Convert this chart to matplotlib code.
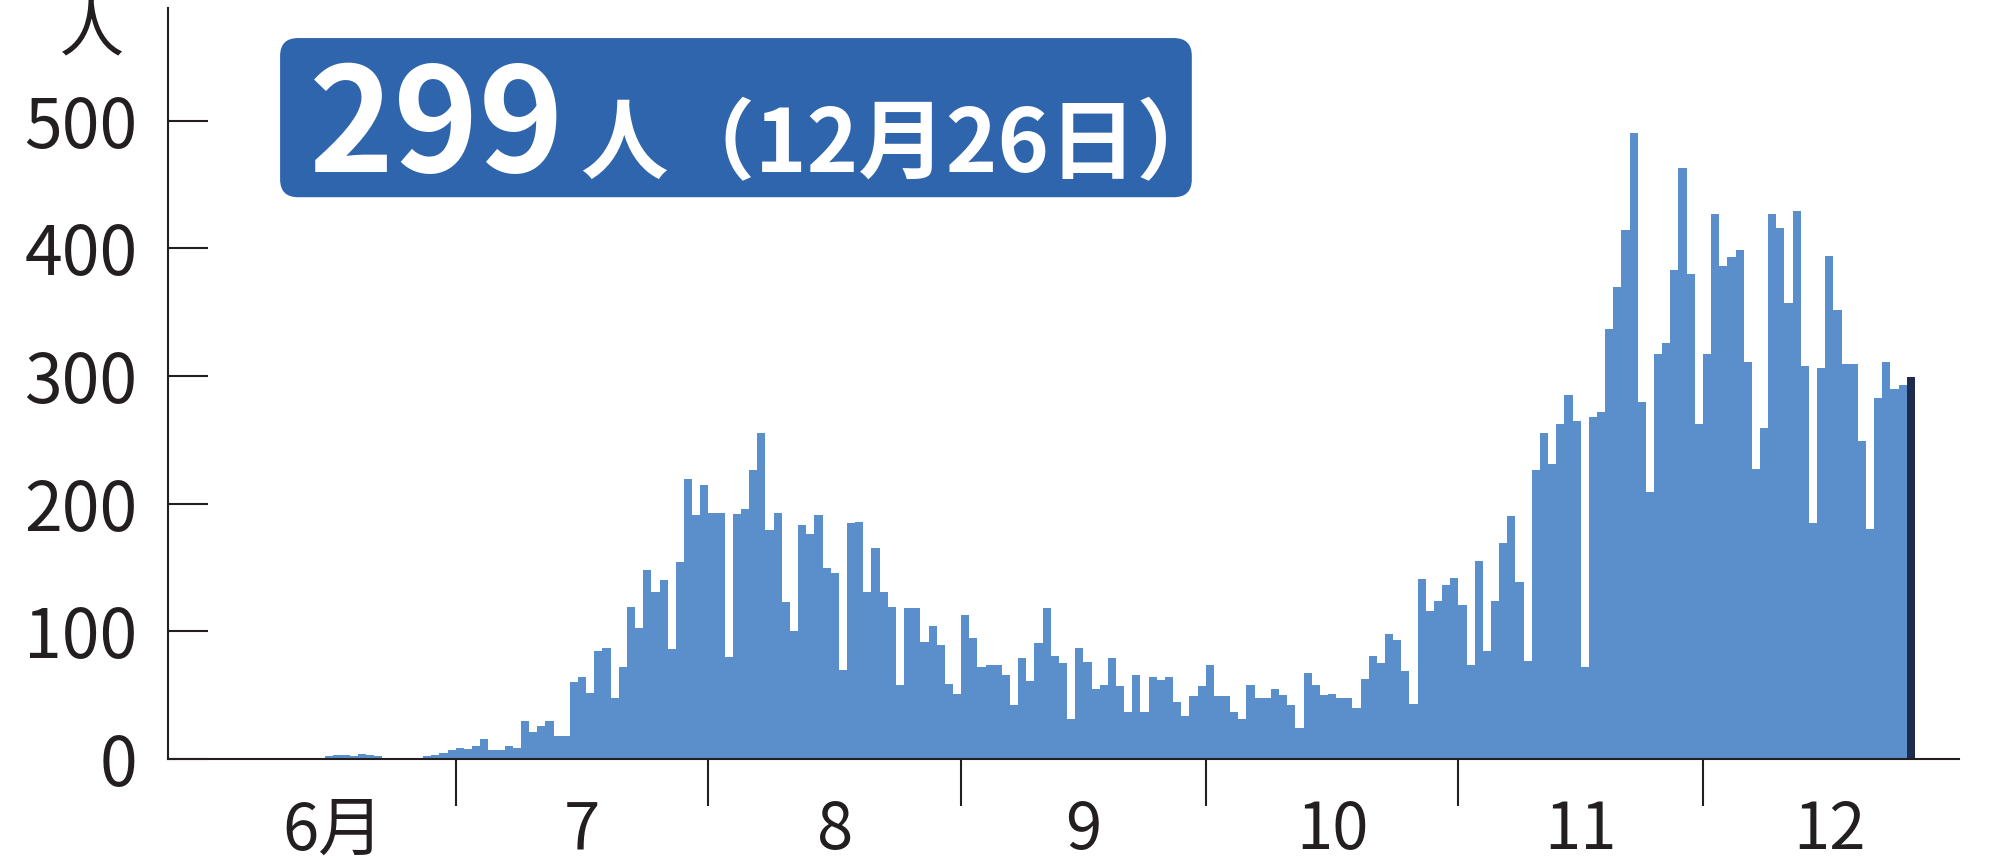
import numpy as np
import matplotlib
matplotlib.use("Agg")
import matplotlib.pyplot as plt
from matplotlib.patches import FancyBboxPatch

# daily new cases (June 1 - Dec 26)
jun = [0, 0, 0, 0, 0, 0, 0, 0, 0, 0, 0, 0, 0, 1, 2, 3, 3, 2, 4, 3,
       2, 1, 1, 1, 1, 1, 2, 3, 5, 7]
jul = [9, 8, 10, 16, 7, 7, 10, 9, 30, 21, 26, 30, 18, 18, 60, 64, 52, 85, 87, 48,
       72, 119, 103, 148, 131, 140, 86, 154, 219, 191, 215]
aug = [193, 193, 80, 192, 196, 226, 255, 179, 193, 123, 100, 183, 176, 191, 150, 146, 70, 185, 186, 131,
       165, 131, 119, 58, 118, 118, 92, 104, 89, 59, 51]
sep = [113, 95, 72, 74, 74, 66, 42, 79, 61, 91, 118, 81, 75, 31, 87, 76, 55, 58, 79, 57,
       37, 66, 37, 64, 62, 64, 45, 34, 49, 57]
oct_ = [74, 49, 49, 37, 31, 58, 48, 48, 55, 50, 42, 24, 67, 58, 50, 51, 48, 48, 40, 63,
        81, 75, 98, 93, 69, 43, 141, 116, 124, 136, 142]
nov = [121, 74, 155, 85, 124, 169, 190, 139, 77, 226, 255, 231, 262, 285, 265, 72, 268, 272, 337, 370,
       414, 490, 280, 209, 317, 326, 383, 463, 380, 262]
dec = [317, 427, 386, 393, 399, 311, 227, 259, 427, 416, 357, 429, 308, 185, 306, 394, 352, 309, 309, 249,
       180, 283, 311, 290, 293, 299]

values = jun + jul + aug + sep + oct_ + nov + dec
month_len = [30, 31, 31, 30, 31, 30, 31]
month_labels = ["6月", "7", "8", "9", "10", "11", "12"]
y_ticks = [0, 100, 200, 300, 400, 500]

bar_color = "#5b8fcb"
last_color = "#1e2b4d"
ink = "#231f20"
num_font = ["Noto Sans CJK JP", "DejaVu Sans"]

fig = plt.figure(figsize=(19.95, 8.65), dpi=100)
ax = fig.add_axes([0.0842, 0.1225, 0.8977, 0.868])

x = np.arange(len(values))
colors = [bar_color] * (len(values) - 1) + [last_color]
ax.bar(x, values, width=1.0, color=colors, linewidth=0)

ax.set_xlim(-5.8, 213.9)
ax.set_ylim(0, 588)

for s in ["top", "right"]:
    ax.spines[s].set_visible(False)
for s in ["left", "bottom"]:
    ax.spines[s].set_linewidth(1.5)
    ax.spines[s].set_color(ink)

# month boundaries (major) and month centres (minor, labelled)
starts = np.concatenate([[0], np.cumsum(month_len)[:-1]])
bounds = starts[1:] - 0.5
centres = starts + np.array(month_len) / 2 - 0.5
ax.set_xticks(bounds)
ax.set_xticklabels([])
ax.set_xticks(centres, minor=True)
ax.set_xticklabels(month_labels, minor=True)
ax.tick_params(axis="x", which="major", direction="out", length=34, width=1.5, color=ink)
ax.tick_params(axis="x", which="minor", length=0, pad=28, labelsize=47, labelcolor=ink)

ax.set_yticks(y_ticks)
ax.set_yticklabels([str(v) for v in y_ticks])
ax.tick_params(axis="y", direction="in", length=29, width=1.5, color=ink,
               labelsize=49, labelcolor=ink)
ax.yaxis.set_tick_params(pad=22)
for lab in ax.get_xticklabels(minor=True) + ax.get_yticklabels():
    lab.set_family(num_font)

# unit label
fig.text(0.046, 0.962, "人", fontsize=46, ha="center", va="center", color=ink,
         family=["Noto Sans CJK JP"])

# headline box
box = FancyBboxPatch((0.1404, 0.772), 0.457, 0.184,
                     boxstyle="round,pad=0,rounding_size=0.009",
                     mutation_aspect=1995 / 865,
                     transform=fig.transFigure, facecolor="#2f65ad",
                     edgecolor="none")
fig.patches.append(box)
fig.text(0.155, 0.801, "299", fontsize=104, fontweight="bold", color="white",
         family=["Noto Sans CJK JP"], va="baseline", ha="left")
fig.text(0.291, 0.801, "人（12月26日）", fontsize=63, fontweight="bold", color="white",
         family=["Noto Sans CJK JP"], va="baseline", ha="left")

fig.savefig("out.png", dpi=100)
